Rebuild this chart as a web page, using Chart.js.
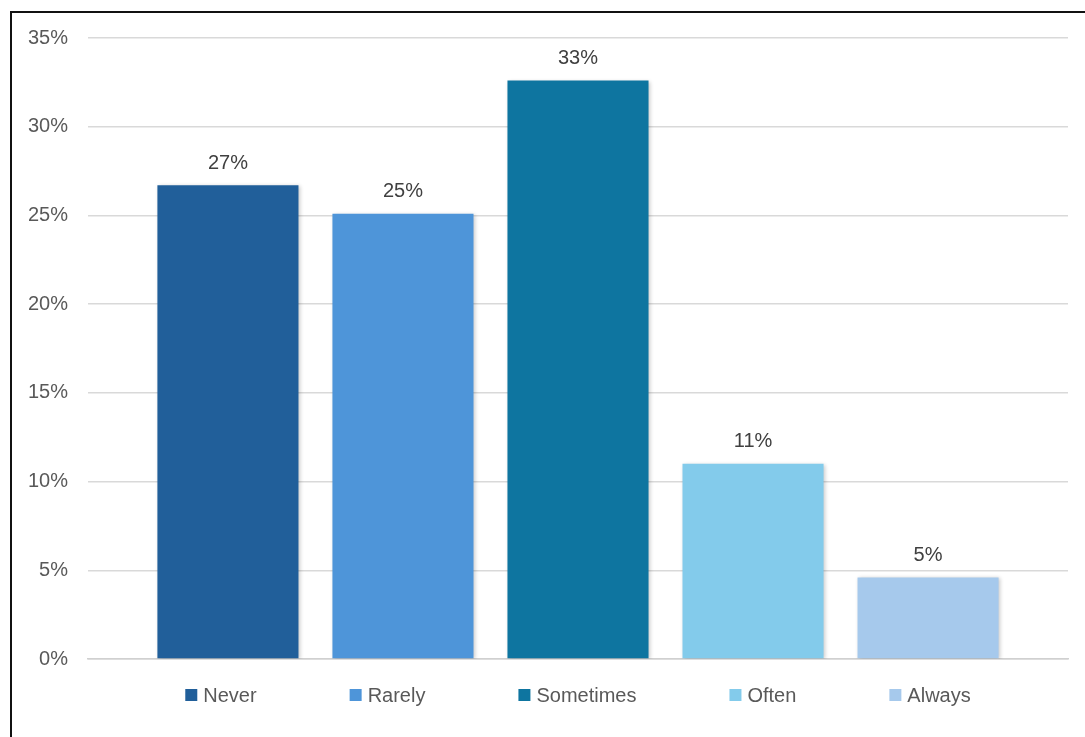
<!DOCTYPE html>
<html>
<head>
<meta charset="utf-8">
<script src="https://cdn.jsdelivr.net/npm/chart.js@4.4.1/dist/chart.umd.min.js"></script>
<style>
  html, body { margin: 0; padding: 0; background: #fff; }
  #wrap { position: relative; width: 1085px; height: 737px; overflow: hidden; }
  #frame { position: absolute; left: 10px; top: 11px; width: 1200px; height: 900px;
           border-left: 2px solid #111; border-top: 2px solid #111; }
  #c { position: absolute; left: 0; top: 0; }
</style>
</head>
<body>
<div id="wrap">
  <div id="frame"></div>
  <canvas id="c" width="1085" height="737"></canvas>
</div>
<script>
// survey answers (percent)
const seriesNames = ['Never', 'Rarely', 'Sometimes', 'Often', 'Always'];
const seriesValues = [26.7, 25.1, 32.6, 11.0, 4.6];
const seriesColors = ['#215F9A', '#4E95D9', '#0E75A0', '#83CBEB', '#A6C9EC'];
const yTicks = [0, 5, 10, 15, 20, 25, 30, 35];

const FONT = '"Liberation Sans", Arial, sans-serif';

// soft shadow under the bars, like the office chart
const barShadow = {
    id: 'barShadow',
    beforeDatasetsDraw(chart) {
        const ctx = chart.ctx;
        ctx.save();
        ctx.shadowColor = 'rgba(0,0,0,0.22)';
        ctx.shadowBlur = 4;
        ctx.shadowOffsetX = 1.5;
        ctx.shadowOffsetY = 1;
    },
    afterDatasetsDraw(chart) {
        chart.ctx.restore();
    }
};

// value labels above each bar
const valueLabels = {
    id: 'valueLabels',
    afterDatasetsDraw(chart) {
        const ctx = chart.ctx;
        ctx.save();
        ctx.font = '20px ' + FONT;
        ctx.fillStyle = '#404040';
        ctx.textAlign = 'center';
        ctx.textBaseline = 'middle';
        chart.data.datasets.forEach((ds, i) => {
            const bar = chart.getDatasetMeta(i).data[0];
            if (!bar) return;
            ctx.fillText(Math.round(ds.data[0]) + '%', bar.x, bar.y - 22);
        });
        ctx.restore();
    }
};

// legend row under the plot (fixed gaps between entries)
const bottomLegend = {
    id: 'bottomLegend',
    afterDraw(chart) {
        const ctx = chart.ctx;
        const box = 12, gapText = 6, gapItem = 93;
        ctx.save();
        ctx.font = '20px ' + FONT;
        ctx.textBaseline = 'middle';
        ctx.textAlign = 'left';
        const items = chart.data.datasets.map(ds => ({
            text: ds.label, color: ds.backgroundColor,
            w: box + gapText + ctx.measureText(ds.label).width
        }));
        const total = items.reduce((s, it) => s + it.w, 0) + gapItem * (items.length - 1);
        let x = (chart.chartArea.left + chart.chartArea.right) / 2 - total / 2;
        const y = 695;
        for (const it of items) {
            ctx.fillStyle = it.color;
            ctx.fillRect(x, y - 6, box, box);
            ctx.fillStyle = '#595959';
            ctx.fillText(it.text, x + box + gapText, y + 1);
            x += it.w + gapItem;
        }
        ctx.restore();
    }
};

const datasets = seriesNames.map((name, i) => ({
    label: name,
    data: [seriesValues[i]],
    backgroundColor: seriesColors[i],
    borderWidth: 0,
    categoryPercentage: 0.893,
    barPercentage: 0.806,
}));

new Chart(document.getElementById('c').getContext('2d'), {
    type: 'bar',
    data: { labels: [''], datasets: datasets },
    plugins: [barShadow, valueLabels, bottomLegend],
    options: {
        responsive: false,
        animation: false,
        layout: { padding: { left: 0, right: 17, top: 38, bottom: 78 } },
        scales: {
            x: {
                ticks: { display: false },
                grid: { display: false, drawTicks: false },
                border: { display: true, color: '#d0d0d0', width: 1.5 },
                afterFit: s => { s.height = 0; }
            },
            y: {
                min: 0,
                max: 35,
                afterBuildTicks: s => { s.ticks = yTicks.map(v => ({ value: v })); },
                ticks: {
                    padding: 20,
                    color: '#595959',
                    font: { family: FONT, size: 20 },
                    callback: v => v + '%'
                },
                grid: { color: '#d9d9d9', lineWidth: 1.5, drawTicks: false },
                border: { display: false },
                afterFit: s => { s.width = 88; }
            }
        },
        plugins: {
            legend: { display: false },
            tooltip: { enabled: false }
        }
    }
});
</script>
</body>
</html>
